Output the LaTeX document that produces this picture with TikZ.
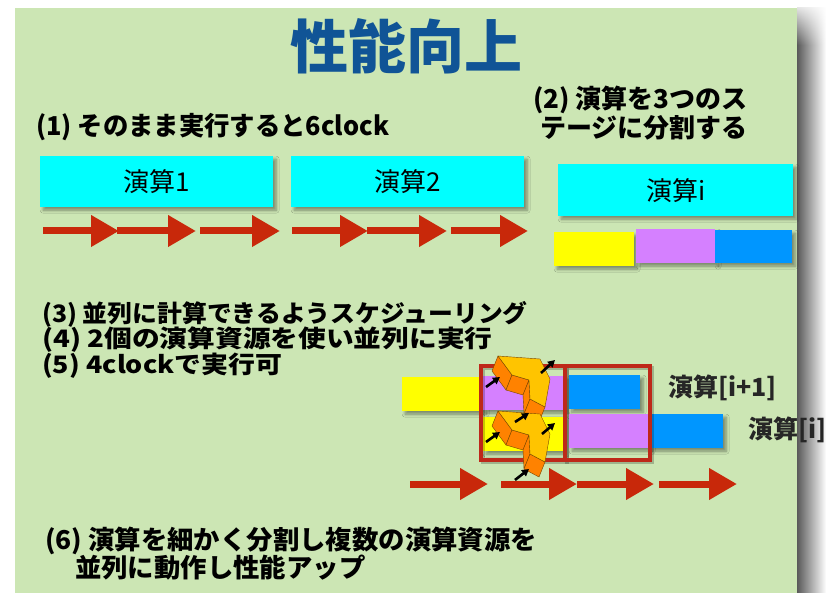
\documentclass[tikz,border=0pt]{standalone}
\usepackage{fontspec}
\usepackage{graphicx}
\usetikzlibrary{arrows.meta,shadows.blur,calc,fadings}
\newfontfamily\jp{Noto Sans CJK JP}[BoldFont={Noto Sans CJK JP Black}]

\definecolor{slidegreen}{RGB}{204,230,180}
\definecolor{titleblue}{RGB}{16,84,150}
\definecolor{opcyan}{RGB}{0,255,255}
\definecolor{styellow}{RGB}{255,255,0}
\definecolor{stpurple}{RGB}{213,128,255}
\definecolor{stblue}{RGB}{0,150,255}
\definecolor{flowred}{RGB}{200,40,10}
\definecolor{framered}{RGB}{190,40,25}
\definecolor{gearface}{RGB}{255,196,0}
\definecolor{gearside}{RGB}{255,130,0}
\definecolor{gearedge}{RGB}{120,70,0}

\tikzset{
  softshadow/.style={blur shadow={shadow xshift=3pt, shadow yshift=-3pt,
      shadow blur radius=3pt, shadow blur steps=6, shadow opacity=40}},
  opbox/.style={fill=opcyan, draw=none, minimum width=233pt, minimum height=51pt,
      inner sep=0pt, font=\jp\fontsize{26}{26}\selectfont, softshadow},
  stage/.style={draw=none, inner sep=0pt, anchor=north west, softshadow},
  flow/.style={draw=flowred, line width=7pt, -{Triangle[length=28pt,width=30pt]}},
  push/.style={draw=black, line width=2.6pt, -{Triangle[length=7pt,width=7.5pt]}},
  heading/.style={inner sep=0pt, anchor=west, font=\jp\bfseries\fontsize{24}{27}\selectfont},
  frame/.style={draw=framered, line width=4.5pt},
  frameshadow/.style={draw=black, opacity=0.22, line width=4.5pt},
  opname/.style={inner sep=0pt, anchor=west, font=\jp\bfseries\fontsize{25}{25}\selectfont, text=black!85},
}
% horizontal stretch of a line of text
\newcommand{\hstretch}[2]{\scalebox{#1}[1]{#2}}

\begin{document}
\begin{tikzpicture}[x=1pt, y=-1pt]
  \useasboundingbox (0,0) rectangle (827,593);
  \fill[white] (0,0) rectangle (827,593);

  % slide with its shadow on the right
  \shade[left color=black!65, right color=white] (797,8) rectangle (826,593);
  \fill[white, path fading=south] (797,0) rectangle (827,45);
  \fill[slidegreen] (15,8) rectangle (797,593);

  % title
  \node[inner sep=0pt, text=titleblue, font=\jp\bfseries\fontsize{58}{58}\selectfont] (title) at (406,46) {性能向上};

  % (1) sequential execution
  \node[heading, font=\jp\bfseries\fontsize{26}{26}\selectfont] (t1) at (36,127) {\hstretch{0.975}{(1) そのまま実行すると6clock}};
  \node[opbox, anchor=north west] (op1) at (40,156) {演算1};
  \node[opbox, anchor=north west] (op2) at (291,156) {演算2};

  \foreach \i/\a/\b in {1/43/119, 2/117/196, 3/200/280, 4/292/368, 5/367/447, 6/451/528}{
    \coordinate (fa\i) at (\a,231);
    \coordinate (fb\i) at (\b,231);
    \draw[flow] (fa\i) -- (fb\i);
  }

  % (2) three stages
  \node[inner sep=0pt, anchor=east, align=right, font=\jp\bfseries\fontsize{26}{27}\selectfont] (t2) at (748,113) {(2) 演算を3つのス\\テージに分割する};
  \node[opbox, anchor=north west, minimum width=235pt, minimum height=52pt] (opi) at (558,164) {演算i};
  \node[stage, fill=styellow, minimum width=80pt, minimum height=34pt] (sy) at (554,232) {};
  \node[stage, fill=stpurple, minimum width=79pt, minimum height=34pt] (sp) at (636,229) {};
  \node[stage, fill=stblue, minimum width=77pt, minimum height=33pt] (sb) at (715,230) {};

  % (3)-(5)
  \node[heading] (t3) at (42,314) {\hstretch{1.035}{(3) 並列に計算できるようスケジューリング}};
  \node[heading] (t4) at (42,340) {\hstretch{1.155}{(4) 2個の演算資源を使い並列に実行}};
  \node[heading] (t5) at (42,366) {\hstretch{1.12}{(5) 4clockで実行可}};

  % overlapped pipeline
  \node[stage, fill=styellow, minimum width=81pt, minimum height=34pt] (ay) at (402,377) {};
  \node[stage, fill=stpurple, minimum width=82pt, minimum height=34pt] (ap) at (483,376) {};
  \node[stage, fill=stblue, minimum width=71pt, minimum height=34pt] (ab) at (569,375) {};
  \node[stage, fill=styellow, minimum width=80pt, minimum height=34pt] (by) at (483,417) {};
  \node[stage, fill=stpurple, minimum width=80pt, minimum height=34pt] (bp) at (569,414) {};
  \node[stage, fill=stblue, minimum width=74pt, minimum height=34pt] (bb) at (649,414) {};

  \node[opname] (l1) at (668,388) {演算[i+1]};
  \node[opname] (l2) at (748,430) {演算[i]};

  % the two clock slots
  \draw[frameshadow] (483,368) rectangle (567,462);
  \draw[frameshadow] (567,368) rectangle (652,462);
  \draw[frame] (481,366) rectangle (565,460);
  \draw[frame] (565,366) rectangle (650,460);

  % folded 3D arrows showing the resource hand-off
  \foreach \dy in {0,55}{
    \begin{scope}[shift={(0,\dy)}]
      \coordinate (g1) at (498,356);
      \coordinate (g2) at (540,359);
      \coordinate (g3) at (550,379);
      \coordinate (g4) at (545,407);
      \coordinate (g5) at (530,399);
      \coordinate (g6) at (529,380);
      \coordinate (g7) at (512,375);
      \foreach \p/\q in {g1/g7, g7/g6, g6/g5, g5/g4}{
        \filldraw[fill=gearside, draw=gearedge, line width=0.4pt]
          (\p) -- (\q) -- ($(\q)+(-6,15)$) -- ($(\p)+(-6,15)$) -- cycle;
      }
      \filldraw[fill=gearface, draw=gearedge, line width=0.4pt]
        (g1) -- (g2) -- (g3) -- (g4) -- (g5) -- (g6) -- (g7) -- cycle;
    \end{scope}
  }

  \foreach \i/\ax/\ay/\bx/\by in {1/486/387/500/377, 2/541/373/555/360, 3/515/422/529/413,
                                  4/542/434/555/423, 5/486/442/500/432, 6/515/480/529/469}{
    \coordinate (pa\i) at (\ax,\ay);
    \coordinate (pb\i) at (\bx,\by);
    \draw[push] (pa\i) -- (pb\i);
  }

  \foreach \i/\a/\b in {1/410/488, 2/501/577, 3/577/654, 4/659/737}{
    \coordinate (ka\i) at (\a,484);
    \coordinate (kb\i) at (\b,484);
    \draw[flow] (ka\i) -- (kb\i);
  }

  % (6) summary
  \node[heading, font=\jp\bfseries\fontsize{26}{26}\selectfont] (t6a) at (45,541) {\hstretch{1.015}{(6) 演算を細かく分割し複数の演算資源を}};
  \node[heading, font=\jp\bfseries\fontsize{26}{26}\selectfont] (t6b) at (75,568) {\hstretch{1.015}{並列に動作し性能アップ}};
\end{tikzpicture}
\end{document}
